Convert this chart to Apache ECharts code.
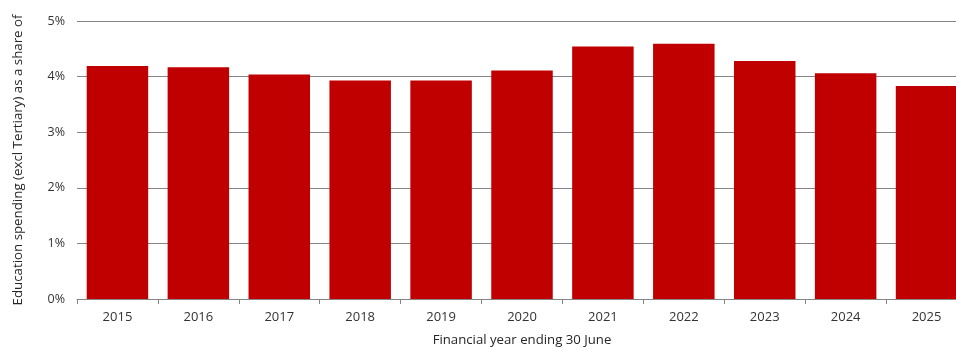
<!DOCTYPE html>
<html>
<head>
<meta charset="utf-8">
<script src="https://cdn.jsdelivr.net/npm/echarts@6/dist/echarts.min.js"></script>
<style>html,body{margin:0;padding:0;background:#fff;overflow:hidden}#c{width:956px;height:347px}</style>
</head>
<body>
<div id="c"></div>
<script>
const categories = ['2015','2016','2017','2018','2019','2020','2021','2022','2023','2024','2025'];
const values = [4.19, 4.17, 4.04, 3.93, 3.93, 4.11, 4.54, 4.59, 4.28, 4.06, 3.83];
const yTitle = 'Education spending (excl Tertiary) as a share of';
const xTitle = 'Financial year ending 30 June';

const chart = echarts.init(document.getElementById('c'), null, {renderer: 'canvas'});
const font = 'Open Sans';
chart.setOption({
  animation: false,
  grid: {left: 77, width: 890, top: 21, height: 278, containLabel: false, outerBoundsMode: 'none'},
  xAxis: {
    type: 'category',
    data: categories,
    name: xTitle,
    nameLocation: 'middle',
    nameGap: 34.5,
    nameTextStyle: {color: '#262626', fontSize: 13.2, fontFamily: font},
    axisLine: {lineStyle: {color: '#868686', width: 1}},
    axisTick: {show: true, length: 5, lineStyle: {color: '#868686'}},
    axisLabel: {color: '#333333', fontSize: 13, fontFamily: font, margin: 12}
  },
  yAxis: {
    type: 'value',
    min: 0, max: 5, interval: 1,
    name: yTitle,
    nameLocation: 'middle',
    nameGap: 52,
    nameTextStyle: {color: '#262626', fontSize: 13.3, fontFamily: font},
    axisLine: {show: false},
    axisTick: {show: false},
    axisLabel: {color: '#333333', fontSize: 12.5, fontFamily: font, margin: 12, formatter: v => v + '%'},
    splitLine: {lineStyle: {color: '#868686', width: 1}}
  },
  series: [{
    type: 'bar',
    data: values,
    barCategoryGap: '24%',
    itemStyle: {color: '#C00000'}
  }]
});
</script>
</body>
</html>
